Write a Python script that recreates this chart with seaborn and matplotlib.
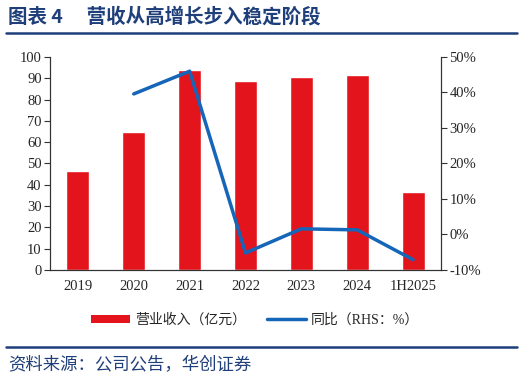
import numpy as np
import pandas as pd
import matplotlib
matplotlib.use('Agg')
import matplotlib.pyplot as plt
import seaborn as sns
from matplotlib.patches import Patch
from matplotlib.lines import Line2D
from matplotlib.ticker import FuncFormatter

# Data
years = ['2019', '2020', '2021', '2022', '2023', '2024', '1H2025']
revenue = [46.5, 64.8, 93.8, 88.9, 90.4, 91.6, 36.4]
growth = [np.nan, 39.6, 46.0, -5.2, 1.6, 1.3, -7.1]

bar_color = '#E3141C'
line_color = '#1565B8'
navy = '#1F3F7A'

sns.set_style('white')
plt.rcParams['font.family'] = ['Liberation Serif', 'Noto Sans CJK SC']

df = pd.DataFrame({'year': years, 'revenue': revenue, 'pos': np.arange(len(years)), 'growth': growth})

fig = plt.figure(figsize=(5.24, 3.82), dpi=100)
ax = fig.add_axes([0.0954, 0.2932, 0.7462, 0.5576])

sns.barplot(data=df, x='year', y='revenue', color=bar_color, width=0.41,
            saturation=1, ax=ax)
ax.set_ylim(0, 100)
ax.set_yticks(range(0, 101, 10))
ax.set_xlim(-0.5, 6.5)
ax.set_xlabel('')
ax.set_ylabel('')

ax2 = ax.twinx()
sns.lineplot(data=df, x='pos', y='growth', color=line_color, linewidth=2.5, ax=ax2)
ax2.set_ylim(-10, 50)
ax2.set_yticks(range(-10, 51, 10))
ax2.yaxis.set_major_formatter(FuncFormatter(lambda v, p: f'{int(v)}%'))
ax2.set_xlim(-0.5, 6.5)
ax2.set_xlabel('')
ax2.set_ylabel('')

# ticks: category boundaries get marks, labels sit at centers
ax.set_xticks(np.arange(len(years)))
ax.set_xticklabels(years)
ax.set_xticks(np.arange(-0.5, len(years)), minor=True)
ax.tick_params(axis='x', which='major', length=0, pad=7, labelsize=10.5)
ax.tick_params(axis='x', which='minor', length=4, width=0.8, color='#333333', direction='out')
ax.tick_params(axis='y', length=4, width=0.8, color='#333333', direction='out', labelsize=10.5, pad=2)
ax2.tick_params(axis='y', length=4, width=0.8, color='#333333', direction='out', labelsize=10.5, pad=2)

for a in (ax, ax2):
    a.spines['top'].set_visible(False)
    for s in ('left', 'right', 'bottom'):
        a.spines[s].set_color('#333333')
        a.spines[s].set_linewidth(0.8)

handles = [Patch(facecolor=bar_color, edgecolor='none'),
           Line2D([0], [0], color=line_color, linewidth=2.5)]
labels = ['营业收入（亿元）', '同比（RHS：%）']
fig.legend(handles, labels, loc='center', bbox_to_anchor=(0.487, 0.162), ncol=2,
           frameon=False, handlelength=2.8, handleheight=0.5, handletextpad=0.35,
           columnspacing=1.5, prop={'family': ['Liberation Serif', 'Noto Sans CJK SC'], 'size': 10})

# header / footer
fig.text(0.015, 0.957, '图表 4\u3000 营收从高增长步入稳定阶段', color=navy, fontsize=14,
         fontweight='bold', family=['Noto Sans CJK SC', 'DejaVu Sans'], va='center', ha='left')
fig.add_artist(Line2D([0.011, 0.987], [0.914, 0.914], color=navy, linewidth=1.8))
fig.add_artist(Line2D([0.011, 0.987], [0.092, 0.092], color=navy, linewidth=1.8))
fig.text(0.015, 0.043, '资料来源：公司公告，华创证券', color=navy, fontsize=12.5,
         family=['Noto Sans CJK SC', 'DejaVu Sans'], style='italic', va='center', ha='left')

fig.savefig('out.png', dpi=100)
